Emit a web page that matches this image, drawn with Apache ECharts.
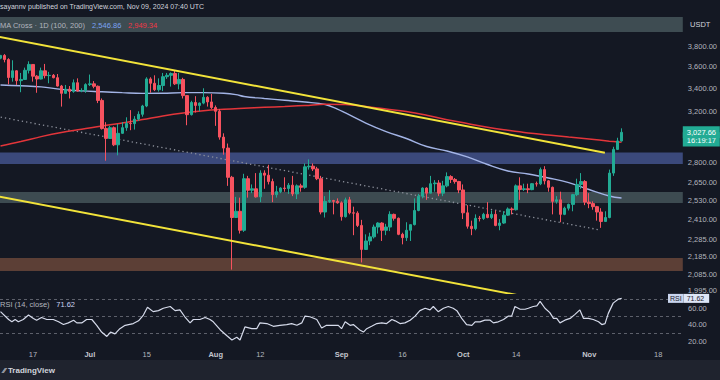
<!DOCTYPE html>
<html><head><meta charset="utf-8">
<script src="https://cdn.jsdelivr.net/npm/echarts@6/dist/echarts.min.js"></script>
<style>html,body{margin:0;padding:0;background:#141823;}#c{width:720px;height:380px;}</style>
</head><body><div id="c"></div>
<script>
// Day index 0 = 2024-06-09 ... 153 = 2024-11-09 (ETH/USDT, 1D)
const opens = [3680,3707,3667,3498,3560,3469,3480,3565,3620,3510,3484,3560,3515,3518,3496,3420,3355,3392,3372,3450,3376,3380,3433,3440,3418,3293,3058,2980,3065,2930,3020,3065,3100,3098,3135,3175,3245,3485,3445,3387,3425,3505,3518,3535,3440,3480,3335,3172,3275,3250,3270,3320,3280,3232,3200,2990,2905,2690,2420,2460,2340,2680,2600,2610,2555,2720,2705,2660,2570,2590,2615,2612,2635,2575,2630,2620,2765,2770,2750,2680,2455,2525,2530,2525,2515,2425,2535,2450,2448,2370,2225,2275,2300,2360,2385,2340,2360,2440,2415,2315,2295,2340,2375,2465,2560,2615,2580,2645,2650,2580,2630,2695,2675,2660,2602,2450,2365,2350,2415,2414,2440,2420,2440,2370,2385,2435,2475,2470,2630,2605,2610,2604,2645,2644,2745,2665,2620,2525,2535,2440,2480,2505,2570,2640,2660,2520,2510,2490,2455,2395,2420,2720,2895,2960];
const closes = [3707,3667,3498,3560,3469,3480,3565,3620,3510,3484,3560,3515,3518,3496,3420,3355,3392,3372,3450,3376,3380,3433,3440,3418,3293,3058,2980,3065,2930,3020,3065,3100,3098,3135,3175,3245,3485,3445,3387,3425,3505,3518,3535,3440,3480,3335,3172,3275,3250,3270,3320,3280,3232,3200,2990,2905,2690,2420,2460,2340,2680,2600,2610,2555,2720,2705,2660,2570,2590,2615,2612,2635,2575,2630,2620,2765,2770,2750,2680,2455,2525,2530,2525,2515,2425,2535,2450,2448,2370,2225,2275,2300,2360,2385,2340,2360,2440,2415,2315,2295,2340,2375,2465,2560,2615,2580,2645,2650,2580,2630,2695,2675,2660,2602,2450,2365,2350,2415,2414,2440,2420,2440,2370,2385,2435,2475,2470,2630,2605,2610,2604,2645,2644,2745,2665,2620,2525,2535,2440,2480,2505,2570,2640,2660,2520,2510,2490,2455,2395,2420,2720,2895,2960,3028];
const lows = [3670,3640,3435,3460,3430,3365,3475,3535,3460,3360,3480,3490,3445,3490,3415,3240,3350,3310,3360,3370,3365,3360,3420,3400,3270,3050,2810,2975,2920,2850,3015,3040,3045,3050,3120,3155,3235,3360,3375,3370,3375,3485,3415,3430,3390,3310,3085,3165,3190,3200,3260,3240,3220,3080,2970,2855,2630,2110,2420,2320,2330,2550,2580,2550,2520,2610,2640,2520,2550,2580,2590,2575,2560,2540,2590,2610,2745,2735,2670,2440,2420,2515,2440,2510,2400,2420,2440,2310,2360,2150,2225,2250,2290,2320,2275,2310,2335,2400,2310,2255,2275,2275,2370,2460,2545,2535,2580,2590,2560,2560,2620,2650,2645,2580,2410,2350,2310,2340,2395,2405,2415,2410,2365,2340,2380,2430,2440,2465,2535,2595,2580,2600,2625,2635,2640,2590,2440,2510,2390,2435,2465,2460,2560,2610,2500,2480,2470,2400,2355,2395,2415,2700,2890,2955];
const highs = [3712,3720,3680,3660,3565,3540,3590,3650,3620,3520,3590,3625,3550,3530,3530,3430,3430,3420,3480,3490,3400,3445,3525,3465,3425,3310,3110,3080,3075,3095,3110,3150,3210,3160,3200,3255,3500,3500,3518,3490,3540,3540,3545,3560,3540,3495,3340,3290,3330,3275,3400,3330,3350,3250,3220,3020,2940,2700,2555,2550,2715,2700,2640,2720,2740,2740,2780,2680,2630,2620,2690,2650,2700,2640,2645,2790,2820,2790,2765,2700,2560,2600,2535,2545,2525,2550,2555,2490,2460,2405,2315,2325,2375,2390,2390,2380,2460,2445,2420,2325,2390,2375,2545,2575,2620,2620,2700,2670,2670,2665,2725,2705,2685,2665,2640,2500,2400,2440,2430,2450,2520,2465,2465,2410,2460,2485,2485,2640,2690,2645,2645,2650,2660,2760,2770,2670,2625,2560,2590,2490,2510,2575,2680,2720,2670,2580,2525,2495,2480,2460,2745,2915,2985,3060];

// Moving averages (day index, price)
const ma100Idx = [0,5,10,15,20,25,30,35,40,45,50,55,58,60,65,70,75,80,83,85,90,95,100,105,110,115,120,125,130,135,140,145,150,153];
const ma100Val = [3430,3423,3413,3390,3377,3369,3361,3355,3356,3361,3361,3356,3344,3327,3310,3294,3279,3258,3219,3186,3103,3034,2979,2917,2883,2838,2782,2735,2713,2685,2653,2605,2561,2547];
const ma200Idx = [0,5,10,15,20,25,30,35,40,45,50,55,60,65,70,75,80,85,90,95,100,105,110,115,120,125,130,135,140,145,150,153];
const ma200Val = [2921,2955,2994,3027,3052,3079,3103,3131,3161,3186,3205,3217,3226,3234,3241,3249,3260,3258,3241,3219,3198,3167,3130,3099,3068,3044,3023,3007,2991,2975,2958,2949];

// Trendlines (day index, price)
const upperTrendIdx = [-1, 148.9];
const upperTrendVal = [3898, 2870];
const lowerTrendIdx = [-1, 140];
const lowerTrendVal = [2560, 1923];
const dottedTrendIdx = [-1, 147.7];
const dottedTrendVal = [3158, 2342];

// Zones (price ranges)
const zoneLo = [3943, 2786, 2514, 2102];
const zoneHi = [4101, 2872, 2588, 2175];
const zoneColors = ['#3e4c52', '#3b497b', '#3d4b51', '#5c3f36'];

// RSI(14) (day index, value)
const rsiIdx = [0,2,2.8,3.6,4.4,5.6,6.9,8.1,8.9,10.1,11.4,13,14.3,15.5,16.7,18,18.8,20,21.2,22.5,23.7,24.9,26.2,27.1,28.2,29.4,30.7,32.7,34,35.2,36.2,37.6,38.9,40.1,41.8,43,44.2,45.4,46.7,47.5,49.1,50.4,51.6,52.4,54.1,55.7,57,58.2,59,60.2,61.9,63.1,63.9,65.6,67.2,68.8,70.5,71.7,73,74.2,75,76.2,77.9,79.1,80.3,82,83.2,84,84.9,86.1,86.9,88.6,89.4,90.2,91.4,92.7,93.9,95.1,96.4,97.2,98.4,99.6,100.9,102.1,103.3,104.6,105.8,106.6,107.8,109.1,110.3,111.5,112.4,113.6,114.8,116.1,116.9,118.1,119.3,120.6,121.4,122.6,123.9,125.1,125.9,126.7,128,129.2,130,131.2,132.1,132.9,134.1,135.3,136.2,137,137.8,139,140.3,141.5,142.7,143.6,144.8,146,147.3,148.1,148.9,149.7,150.9,152.2,153];
const rsiVal = [55.6,46.1,43.3,46.1,43.3,46.1,51.5,47.4,45.3,48.6,46.1,46.1,43.3,40,42,45.3,42,42,46.1,46.1,39.1,30.9,25.6,30.9,28.8,35,39.1,41.2,44.5,51.5,60.9,55.6,56.8,59.7,61.8,56.8,57.7,49.4,42,46.1,46.1,48.6,46.1,43.3,33.8,26.8,21.4,24.7,21.4,37.1,35,35,42,41.2,37.9,39.1,40,41.2,39.1,42,50.2,49.4,46.1,35.8,39.1,39.1,39.1,35,43.3,39.1,40,33,30.9,35,37.9,41.2,42,41.2,46.1,44.5,41.2,42,45.3,50.2,56.8,59.7,57.7,61.8,55.6,59.7,61.8,59.7,56.8,47.4,40,39.1,43.3,43.3,45.3,45.3,42,43.3,46.1,50.2,50.2,61.8,58.5,58.5,59.7,61.8,62.6,67.9,59.7,54.4,47.4,47.4,42,45.3,47.4,52.3,57.7,47.4,47.4,46.1,43.3,40,41.2,53.5,65.9,70.8,71.62];
const rsiLevels = [70, 50, 30];

// Axis tick labels
const tickIdx = [8,22,36,53,64,84,99,114,127,145,162];
const tickLabels = ['17','Jul','15','Aug','12','Sep','16','Oct','14','Nov','18'];
const priceTicks = [3800,3600,3400,3200,2800,2650,2530,2410,2285,2185,2085,1995];
const rsiTicks = [60,40,20];
const lastPrice = 3027.66, lastRsi = 71.62, countdown = '16:19:17';
const ma100Last = 2546.86, ma200Last = 2949.34;

const FONT = 'Liberation Sans';
const fmt = v => (Math.round(v*100)/100).toFixed(2).replace(/\B(?=(\d{3})+(?!\d))/g, ',');
const pair = (a, b) => a.map((x, k) => [x, b[k]]);
const candles = closes.map((c, i) => [i, opens[i], c, lows[i], highs[i]]);
const xMin = -0.123, xMax = 168.1;
const CLEAR = 'rgba(0,0,0,0)';
const UP = '#22ab94', DOWN = '#f7525f';

const chart = echarts.init(document.getElementById('c'), null, {renderer: 'svg'});
chart.setOption({
  animation: false,
  backgroundColor: '#141823',
  textStyle: {fontFamily: FONT},
  grid: [
    {left: 0, right: 37, top: 15, height: 278},
    {left: 0, right: 37, top: 294, height: 51}
  ],
  xAxis: [
    {type: 'value', gridIndex: 0, min: xMin, max: xMax, show: false},
    {type: 'value', gridIndex: 1, min: xMin, max: xMax,
     axisLine: {show: false}, axisTick: {show: false}, splitLine: {show: false},
     axisLabel: {customValues: tickIdx, margin: 5, color: '#b2b5be', fontSize: 7.5, fontFamily: FONT,
       formatter: v => { const k = tickIdx.indexOf(Math.round(v)); const s = tickLabels[k];
         return /^[A-Z]/.test(s) ? '{m|' + s + '}' : s; },
       rich: {m: {fontWeight: 'bold', color: '#c4c7cf', fontSize: 7.5, fontFamily: FONT}}}}
  ],
  yAxis: [
    {type: 'log', gridIndex: 0, position: 'right', min: 1984, max: 4123,
     axisLine: {show: false}, axisTick: {show: false}, splitLine: {show: false},
     axisLabel: {customValues: priceTicks, margin: 5, color: '#b2b5be', fontSize: 7.5, fontFamily: FONT,
       formatter: v => fmt(v)}},
    {type: 'value', gridIndex: 1, position: 'right', min: 15.29, max: 76.92,
     axisLine: {show: false}, axisTick: {show: false}, splitLine: {show: false},
     axisLabel: {customValues: rsiTicks, margin: 5, color: '#b2b5be', fontSize: 7.5, fontFamily: FONT,
       formatter: v => fmt(v)}}
  ],
  graphic: [
    {type: 'rect', left: 0, top: 360, shape: {width: 720, height: 20}, style: {fill: '#1f232e'}, z: 1},
    {type: 'text', left: 0, top: 3, style: {text: 'sayannv published on TradingView.com, Nov 09, 2024 07:40 UTC', fill: '#d1d4dc', fontSize: 7, fontFamily: FONT}, z: 50},
    {type: 'text', left: 0, top: 19, style: {text: '{g|MA Cross · 1D (100, 200)}  {b|' + fmt(ma100Last) + '}  {r|' + fmt(ma200Last) + '}',
      rich: {g: {fill: '#b2b5be', fontSize: 7.5, fontFamily: FONT}, b: {fill: '#7aa2f2', fontSize: 7.5, fontFamily: FONT}, r: {fill: '#f23645', fontSize: 7.5, fontFamily: FONT}}}, z: 50},
    {type: 'text', left: 690, top: 20, style: {text: 'USDT', fill: '#d1d4dc', fontSize: 7.5, fontFamily: FONT}, z: 50},
    {type: 'text', left: 0, top: 298, style: {text: '{g|RSI (14, close)}  {v|' + fmt(lastRsi) + '}',
      rich: {g: {fill: '#b2b5be', fontSize: 7.5, fontFamily: FONT}, v: {fill: '#c9d1f0', fontSize: 7.5, fontFamily: FONT}}}, z: 50},
    {type: 'text', left: 3, top: 366, style: {text: '⁄⁄ TradingView', fill: '#d1d4dc', fontSize: 8, fontWeight: 'bold', fontFamily: FONT}, z: 50}
  ],
  series: [
    {type: 'line', xAxisIndex: 0, yAxisIndex: 0, data: [], z: 0, silent: true,
     markArea: {silent: true, data: zoneLo.map((lo, k) => [{yAxis: lo, itemStyle: {color: zoneColors[k]}}, {yAxis: zoneHi[k]}])}},
    {type: 'line', xAxisIndex: 0, yAxisIndex: 0, data: pair(dottedTrendIdx, dottedTrendVal), showSymbol: false, z: 2,
     lineStyle: {color: '#8d919c', width: 1.3, type: [1.3, 3]}},
    {type: 'line', xAxisIndex: 0, yAxisIndex: 0, data: pair(ma100Idx, ma100Val), showSymbol: false, smooth: 0.4, z: 3,
     lineStyle: {color: '#a3b4e6', width: 1.4}},
    {type: 'line', xAxisIndex: 0, yAxisIndex: 0, data: pair(ma200Idx, ma200Val), showSymbol: false, smooth: 0.4, z: 3,
     lineStyle: {color: '#e3353a', width: 1.5}},
    {type: 'candlestick', xAxisIndex: 0, yAxisIndex: 0, data: candles, barWidth: 3, z: 4,
     encode: {x: 0, y: [1, 2, 3, 4]},
     itemStyle: {color: UP, color0: DOWN, borderColor: UP, borderColor0: DOWN, borderWidth: 1},
     markLine: {silent: true, symbol: 'none', lineStyle: {color: CLEAR, width: 0},
       data: [
         {yAxis: lastPrice, lineStyle: {color: CLEAR, width: 0}, label: {show: true, position: 'end', distance: 0, opacity: 1,
           formatter: countdown, color: '#ffffff', backgroundColor: UP, width: 29, verticalAlign: 'top',
           fontSize: 7.5, padding: [4.6, 4, 1.5, 4], fontFamily: FONT, align: 'left'}},
         {yAxis: lastPrice, lineStyle: {color: CLEAR, width: 0}, label: {show: true, position: 'end', distance: 0, opacity: 1,
           formatter: fmt(lastPrice), color: '#ffffff', backgroundColor: UP, width: 29,
           fontSize: 7.5, padding: [3, 4, 1, 4], fontFamily: FONT, align: 'left'}}
       ]}},
    {type: 'line', xAxisIndex: 0, yAxisIndex: 0, data: pair(upperTrendIdx, upperTrendVal), showSymbol: false, z: 5,
     lineStyle: {color: '#f2e33a', width: 2}},
    {type: 'line', xAxisIndex: 0, yAxisIndex: 0, data: pair(lowerTrendIdx, lowerTrendVal), showSymbol: false, z: 5,
     lineStyle: {color: '#f2e33a', width: 2}},
    {type: 'line', xAxisIndex: 1, yAxisIndex: 1, data: pair(rsiIdx, rsiVal), showSymbol: false, z: 5,
     lineStyle: {color: '#d6dbeb', width: 1.2},
     markLine: {silent: true, symbol: 'none',
       data: rsiLevels.map(l => ({yAxis: l, lineStyle: {color: '#5d606b', type: [3, 3], width: 1}, label: {show: false}})).concat([
         {yAxis: lastRsi, lineStyle: {color: CLEAR, width: 0}, label: {show: true, position: 'end', distance: -15, opacity: 1,
           formatter: '{a|RSI}{b|' + fmt(lastRsi) + '}',
           rich: {a: {backgroundColor: '#c9d5ef', color: '#1e222d', fontSize: 7, padding: [1, 2], fontFamily: FONT},
                  b: {backgroundColor: '#dde6f7', color: '#1e222d', fontSize: 7, padding: [1, 5, 1, 3], fontFamily: FONT}}}}])}}
  ]
});
</script></body></html>
